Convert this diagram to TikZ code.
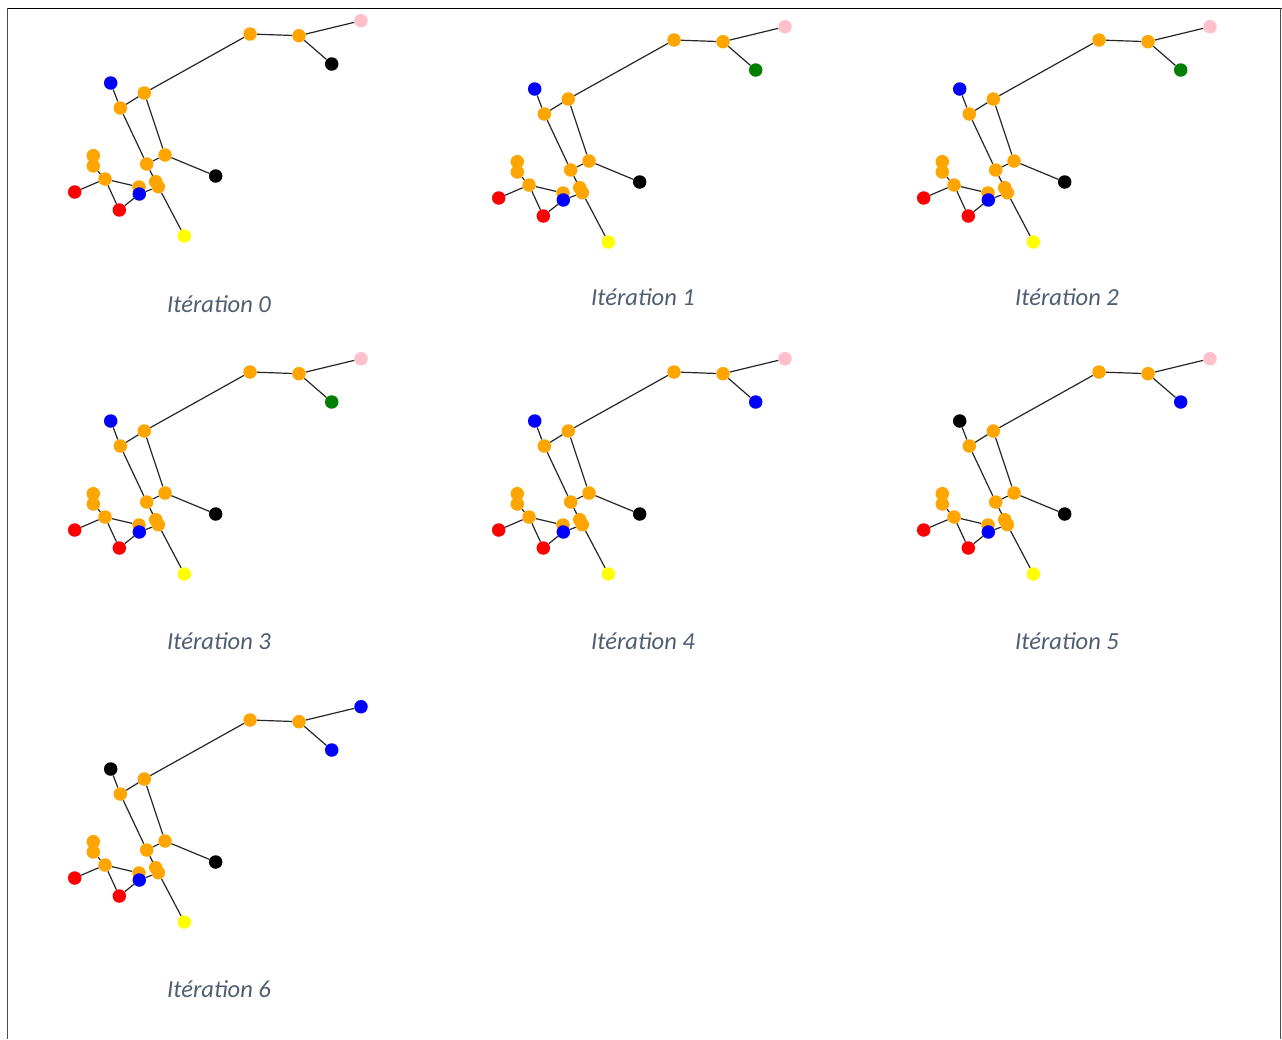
\documentclass[tikz,border=0pt]{standalone}
\usepackage{fontspec}
\setmainfont{Carlito}
\usetikzlibrary{backgrounds}
\definecolor{capcol}{RGB}{80,94,114}
\definecolor{orng}{RGB}{255,165,0}
\definecolor{pnk}{RGB}{255,192,203}
\definecolor{grn}{RGB}{0,128,0}
\definecolor{blu}{RGB}{0,0,255}
\definecolor{rd}{RGB}{255,0,0}
\definecolor{yel}{RGB}{255,255,0}
\tikzset{
  dot/.style={circle,inner sep=0pt,minimum size=13.5pt,draw=none},
  bond/.style={line width=1.2pt,black!85},
  caption/.style={font=\itshape\fontsize{24.5}{28}\selectfont,text=capcol},
  frameline/.style={line width=1.6pt,black!70}
}
\newcommand\molgraph[6]{%
\begin{scope}[shift={(#1,#2)}]
\node[dot,fill=orng] (#6A) at (250,34) {};
\node[dot,fill=orng] (#6B) at (299,35.7) {};
\node[dot,fill=#5] (#6P) at (361,20.7) {};
\node[dot,fill=#4] (#6K1) at (331.7,64) {};
\node[dot,fill=#3] (#6T) at (110.7,83) {};
\node[dot,fill=orng] (#6C) at (144.3,93) {};
\node[dot,fill=orng] (#6D) at (120.3,108) {};
\node[dot,fill=orng] (#6E) at (165,155) {};
\node[dot,fill=orng] (#6F) at (146.7,164) {};
\node[dot,fill=black] (#6K2) at (215.7,176) {};
\node[dot,fill=orng] (#6G1) at (93.3,155.7) {};
\node[dot,fill=orng] (#6G2) at (93.3,166) {};
\node[dot,fill=orng] (#6H) at (105,179) {};
\node[dot,fill=rd] (#6R1) at (74.7,192) {};
\node[dot,fill=rd] (#6R2) at (119.3,210) {};
\node[dot,fill=orng] (#6I) at (139,187) {};
\node[dot,fill=orng] (#6J1) at (155.7,181.7) {};
\node[dot,fill=orng] (#6J2) at (158.3,186.7) {};
\node[dot,fill=yel] (#6Y) at (184.3,236) {};
\node[dot,fill=blu] (#6U) at (139.3,194) {};
\begin{scope}[on background layer]
\draw[bond] (#6P)--(#6B) (#6A)--(#6B) (#6B)--(#6K1) (#6A)--(#6C) (#6C)--(#6D)
  (#6T)--(#6D) (#6D)--(#6F) (#6C)--(#6E) (#6E)--(#6F) (#6E)--(#6K2)
  (#6F)--(#6J1) (#6J2)--(#6Y) (#6G1)--(#6G2) (#6G2)--(#6H) (#6H)--(#6R1)
  (#6H)--(#6R2) (#6H)--(#6I) (#6J1)--(#6J2) (#6R2)--(#6U) (#6U)--(#6J2);
\end{scope}
\end{scope}}
\begin{document}
\begin{tikzpicture}[x=1pt,y=-1pt]
\useasboundingbox (0,0) rectangle (1282,1039);
\begin{scope}[on background layer]
\fill[white] (0,0) rectangle (1282,1039);
\end{scope}
\draw[line width=1pt,black] (6.5,8.5) -- (1282,8.5);
\draw[frameline] (7.5,8) -- (7.5,1039);
\draw[frameline] (1280.5,8) -- (1280.5,1039);
% graphs
\molgraph{0}{0}{blu}{black}{pnk}{a}
\molgraph{424}{6}{blu}{grn}{pnk}{b}
\molgraph{849}{6}{blu}{grn}{pnk}{c}
\molgraph{0}{338}{blu}{grn}{pnk}{d}
\molgraph{424}{338}{blu}{blu}{pnk}{e}
\molgraph{849}{338}{black}{blu}{pnk}{f}
\molgraph{0}{686}{black}{blu}{blu}{g}
% captions
\node[caption] (capa) at (219,304) {Itération 0};
\node[caption] (capb) at (643,297) {Itération 1};
\node[caption] (capc) at (1067,297) {Itération 2};
\node[caption] (capd) at (219,641) {Itération 3};
\node[caption] (cape) at (643,641) {Itération 4};
\node[caption] (capf) at (1067,641) {Itération 5};
\node[caption] (capg) at (219,989) {Itération 6};
\end{tikzpicture}
\end{document}
